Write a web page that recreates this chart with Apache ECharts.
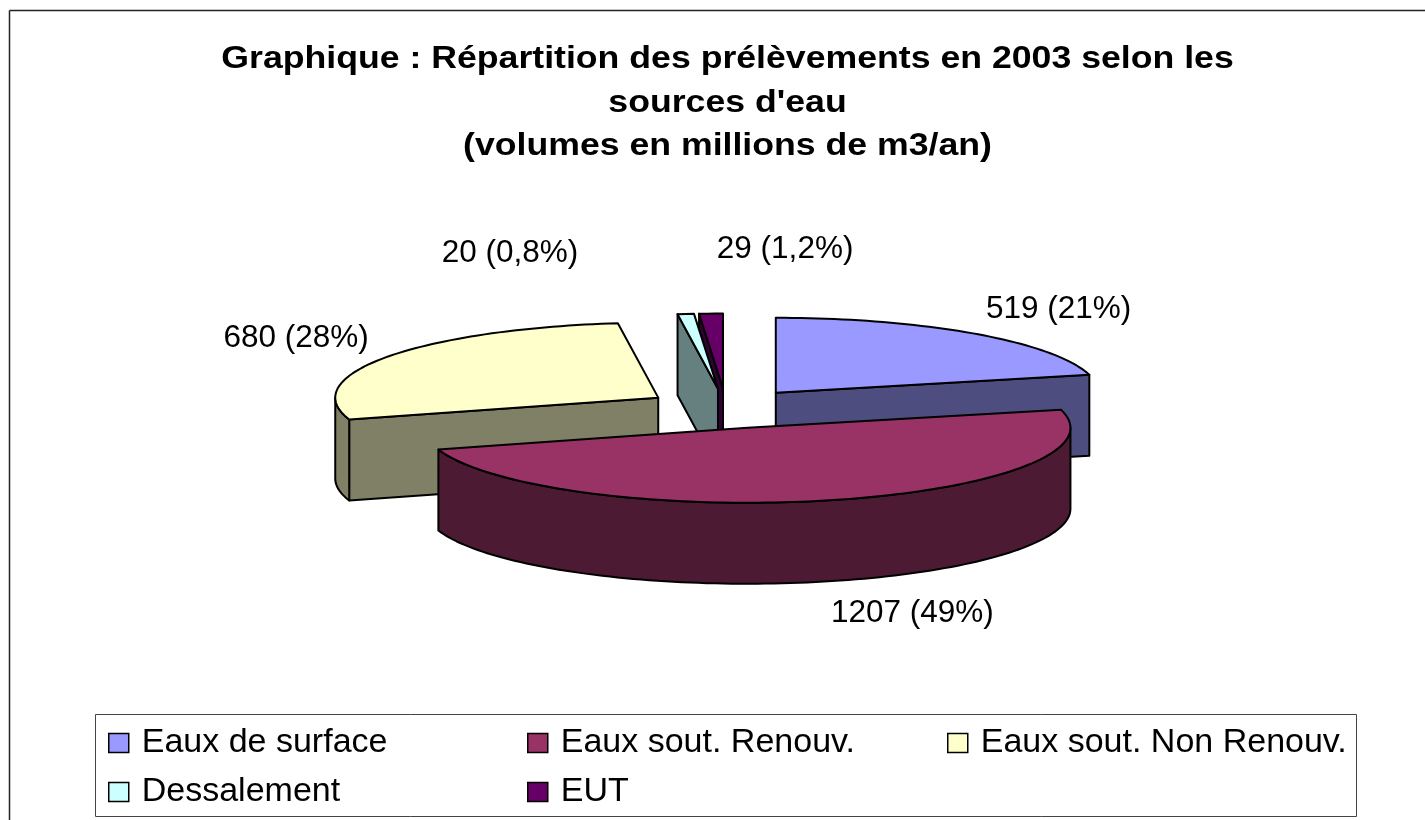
<!DOCTYPE html>
<html>
<head>
<meta charset="utf-8">
<style>html,body{margin:0;padding:0;background:#fff}#chart{width:1425px;height:820px}</style>
<script src="https://cdn.jsdelivr.net/npm/echarts@6/dist/echarts.min.js"></script>
</head>
<body>
<div id="chart"></div>
<script>
const categories = ['Eaux de surface', 'Eaux sout. Renouv.', 'Eaux sout. Non Renouv.', 'Dessalement', 'EUT'];
const volumes = [519, 1207, 680, 20, 29];
const shares = ['21%', '49%', '28%', '0,8%', '1,2%'];
const topColors = ['#9999FF', '#993366', '#FFFFCC', '#CCFFFF', '#660066'];
const sideColors = ['#4D4D80', '#4D1A33', '#808066', '#668080', '#330033'];
const titleText = "Graphique : Répartition des prélèvements en 2003 selon les\nsources d'eau\n(volumes en millions de m3/an)";

// Layout constants, in pie-radius units of the hidden axes.
const explodeX = 0.25, explodeY = 0.266, depth = 1.08;
const labelAnchors = [[1.03, -1.32], [0.577, 2.73], [-1.331, -0.93], [-0.669, -2.07], [0.183, -2.12]];
const drawOrder = [4, 3, 2, 0, 1];
const legendSlots = [[108, 726], [527, 726], [947, 726], [108, 775], [527, 775]];

const total = volumes.reduce((s, v) => s + v, 0);
const bounds = [];
volumes.reduce((acc, v) => { bounds.push([acc / total * 360, (acc + v) / total * 360]); return acc + v; }, 0);
const rad = d => d * Math.PI / 180;

function renderSlice(idx) {
  return function (params, api) {
    const [from, to] = bounds[idx];
    const mid = rad((from + to) / 2);
    const ox = explodeX * Math.sin(mid), oy = -explodeY * Math.cos(mid);
    const rim = d => [ox + Math.sin(rad(d)), oy - Math.cos(rad(d))];
    const drop = p => [p[0], p[1] + depth];
    const px = p => api.coord(p);
    const apex = [ox, oy];
    const arc = (a, b) => {
      const pts = [], n = Math.max(2, Math.ceil((b - a) / 1.5));
      for (let i = 0; i <= n; i++) pts.push(rim(a + (b - a) * i / n));
      return pts;
    };
    const poly = (pts, fill) => ({
      type: 'polygon',
      shape: { points: pts.map(px) },
      style: { fill: fill, stroke: '#000', lineWidth: 2, lineJoin: 'round' }
    });
    const side = sideColors[idx];
    const kids = [];
    if (from > 180) kids.push(poly([apex, rim(from), drop(rim(from)), drop(apex)], side));
    if (to < 180) kids.push(poly([apex, rim(to), drop(rim(to)), drop(apex)], side));
    const rimFrom = Math.max(from, 90), rimTo = Math.min(to, 270);
    if (rimFrom < rimTo) {
      const r = arc(rimFrom, rimTo);
      kids.push(poly(r.concat(r.map(drop).reverse()), side));
    }
    kids.push(poly([apex].concat(arc(from, to)), topColors[idx]));
    const lp = px(labelAnchors[idx]);
    kids.push({
      type: 'text', z2: 10,
      style: {
        x: lp[0], y: lp[1], text: volumes[idx] + ' (' + shares[idx] + ')',
        fill: '#000', font: '31.5px "Liberation Sans", Arial, sans-serif',
        textAlign: 'center', textVerticalAlign: 'middle'
      }
    });
    return { type: 'group', children: kids };
  };
}

const chart = echarts.init(document.getElementById('chart'), null, { renderer: 'canvas' });
chart.setOption({
  animation: false,
  backgroundColor: '#fff',
  grid: { left: 403, width: 646, top: 333.5, height: 150 },
  xAxis: { type: 'value', min: -1, max: 1, show: false },
  yAxis: { type: 'value', min: -1, max: 1, inverse: true, show: false },
  legend: categories.map((name, i) => ({
    left: legendSlots[i][0], top: legendSlots[i][1], padding: 0,
    itemWidth: 20, itemHeight: 19, icon: 'rect', selectedMode: false,
    itemStyle: { borderColor: '#000', borderWidth: 1.5 },
    textStyle: { fontFamily: '"Liberation Sans", Arial, sans-serif', fontSize: 34, color: '#000', padding: [0, 0, 0, 8] },
    data: [name]
  })),
  graphic: [
    { type: 'line', silent: true, z: -10, shape: { x1: 9.5, y1: 10.5, x2: 1425, y2: 10.5 }, style: { stroke: '#222', lineWidth: 1.5 } },
    { type: 'line', silent: true, z: -10, shape: { x1: 9.5, y1: 10.5, x2: 9.5, y2: 820 }, style: { stroke: '#222', lineWidth: 1.5 } },
    { type: 'rect', silent: true, z: -9, shape: { x: 95.5, y: 714.5, width: 1261, height: 102 }, style: { fill: '#fff', stroke: '#444', lineWidth: 1 } },
    {
      type: 'text', silent: true, z: 20, x: 727.5, y: 38, scaleX: 1.15,
      style: {
        text: titleText, fill: '#000', textAlign: 'center', textVerticalAlign: 'top', lineHeight: 43.5,
        font: 'bold 31px "Liberation Sans", Arial, sans-serif'
      }
    }
  ],
  series: drawOrder.map((i, order) => ({
    type: 'custom',
    name: categories[i],
    coordinateSystem: 'cartesian2d',
    z: 2 + order,
    clip: false,
    silent: true,
    itemStyle: { color: topColors[i] },
    data: [[volumes[i], 0]],
    encode: { x: 1, y: 1 },
    renderItem: renderSlice(i)
  }))
});
</script>
</body>
</html>
